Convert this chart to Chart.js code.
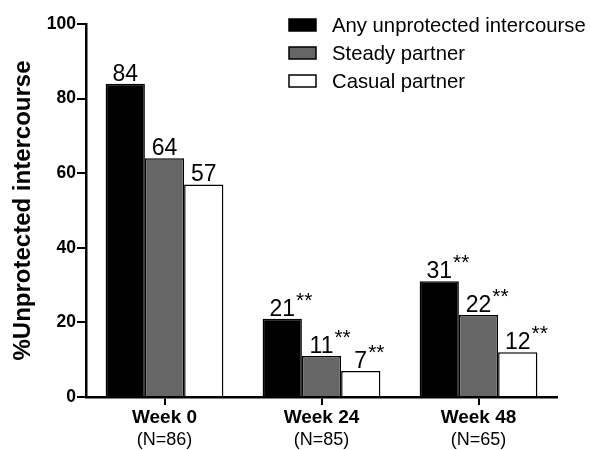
<!DOCTYPE html>
<html>
<head>
<meta charset="utf-8">
<script src="https://cdn.jsdelivr.net/npm/chart.js@4/dist/chart.umd.min.js"></script>
<style>
  html, body { margin: 0; padding: 0; background: #fff; }
  #wrap { width: 590px; height: 450px; }
</style>
</head>
<body>
<div id="wrap"><canvas id="c" width="590" height="450"></canvas></div>
<script>
// Share of participants reporting unprotected intercourse, by visit
const weeks = ['Week 0', 'Week 24', 'Week 48'];
const sampleSizes = ['(N=86)', '(N=85)', '(N=65)'];
const anyIntercourse = [84, 21, 31];
const steadyPartner = [64, 11, 22];
const casualPartner = [57, 7, 12];
// ** marks a significant change from baseline
const significant = [false, true, true];
const yTicks = [0, 20, 40, 60, 80, 100];

const FONT = '"Liberation Sans", Arial, Helvetica, sans-serif';

const valueLabels = {
  id: 'valueLabels',
  afterDatasetsDraw(chart) {
    const ctx = chart.ctx;
    ctx.save();
    ctx.fillStyle = '#000';
    chart.data.datasets.forEach((ds, di) => {
      const meta = chart.getDatasetMeta(di);
      meta.data.forEach((bar, i) => {
        const txt = String(ds.data[i]);
        ctx.font = '23px ' + FONT;
        ctx.textAlign = 'center';
        ctx.textBaseline = 'alphabetic';
        const base = bar.y - 3;
        ctx.fillText(txt, bar.x, base);
        if (significant[i]) {
          const w = ctx.measureText(txt).width;
          ctx.font = '21px ' + FONT;
          ctx.textAlign = 'left';
          ctx.fillText('**', bar.x + w / 2 + 1, base - 9);
        }
      });
    });
    ctx.restore();
  }
};

const categoryLabels = {
  id: 'categoryLabels',
  afterDraw(chart) {
    const ctx = chart.ctx;
    const xs = chart.scales.x;
    ctx.save();
    ctx.fillStyle = '#000';
    ctx.textAlign = 'center';
    ctx.textBaseline = 'alphabetic';
    weeks.forEach((w, i) => {
      const x = xs.getPixelForValue(i);
      ctx.font = 'bold 19px ' + FONT;
      ctx.fillText(w, x, 423);
      ctx.font = '18px ' + FONT;
      ctx.fillText(sampleSizes[i], x, 445);
    });
    ctx.restore();
  }
};

const boxLegend = {
  id: 'boxLegend',
  afterDraw(chart) {
    const ctx = chart.ctx;
    ctx.save();
    chart.data.datasets.forEach((ds, i) => {
      const cy = 25 + i * 28;
      ctx.fillStyle = ds.backgroundColor;
      ctx.fillRect(289, cy - 6, 27, 12);
      ctx.strokeStyle = '#000';
      ctx.lineWidth = 1.5;
      ctx.strokeRect(289, cy - 6, 27, 12);
      ctx.fillStyle = '#000';
      ctx.font = '20.3px ' + FONT;
      ctx.textAlign = 'left';
      ctx.textBaseline = 'middle';
      ctx.fillText(ds.label, 332, cy + 1);
    });
    ctx.restore();
  }
};

new Chart(document.getElementById('c'), {
  type: 'bar',
  data: {
    labels: weeks,
    datasets: [
      { label: 'Any unprotected intercourse', data: anyIntercourse, backgroundColor: '#000000' },
      { label: 'Steady partner', data: steadyPartner, backgroundColor: '#666666' },
      { label: 'Casual partner', data: casualPartner, backgroundColor: '#ffffff' }
    ].map(d => Object.assign(d, {
      borderColor: '#000', borderWidth: 1.5, borderSkipped: 'bottom',
      barPercentage: 1.0, categoryPercentage: 0.75
    }))
  },
  options: {
    responsive: false,
    animation: false,
    layout: { padding: { left: 0, top: 24, right: 33, bottom: 0 } },
    plugins: { legend: { display: false }, tooltip: { enabled: false } },
    scales: {
      x: {
        offset: true,
        grid: { display: true, drawOnChartArea: false, drawTicks: true, tickLength: 8, offset: false, color: '#000', lineWidth: 2 },
        border: { display: true, color: '#000', width: 2.5 },
        ticks: { display: false },
        afterFit(s) { s.height = 53; }
      },
      y: {
        min: 0, max: 100,
        afterBuildTicks(s) { s.ticks = yTicks.map(v => ({ value: v })); },
        grid: { display: true, drawOnChartArea: false, drawTicks: true, tickLength: 9, color: '#000', lineWidth: 2 },
        border: { display: true, color: '#000', width: 2.5 },
        ticks: { color: '#000', font: { family: FONT, size: 17.5, weight: 'bold' }, padding: 1 },
        title: { display: true, text: '%Unprotected intercourse', color: '#000', font: { family: FONT, size: 24, weight: 'bold' }, padding: { top: 9, bottom: 0 } },
        afterFit(s) { s.width = 86; }
      }
    }
  },
  plugins: [valueLabels, categoryLabels, boxLegend]
});
</script>
</body>
</html>
